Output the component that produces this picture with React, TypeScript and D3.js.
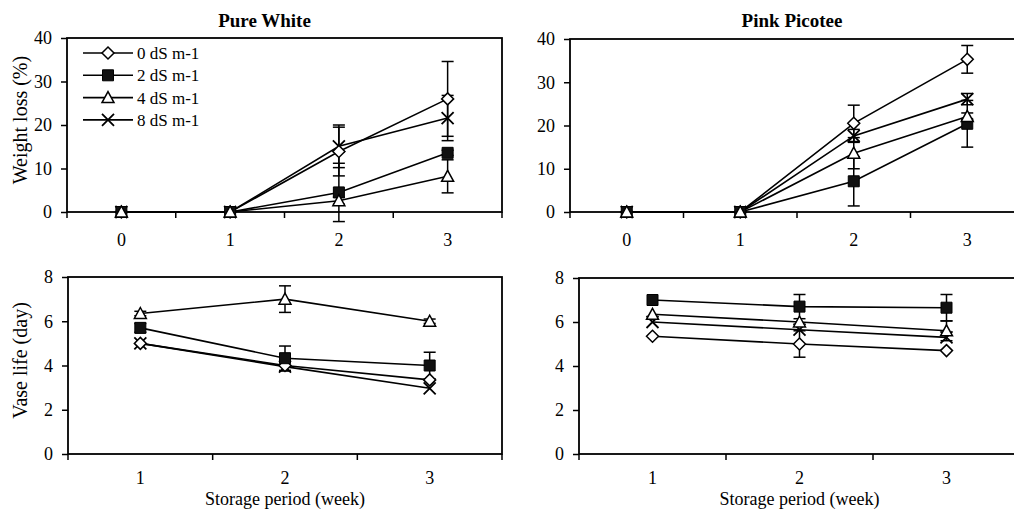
import React, { useEffect, useRef } from 'react'
import * as d3 from 'd3'

const topWeeks = ['0', '1', '2', '3']
const bottomWeeks = ['1', '2', '3']
const levels = ['0 dS m-1', '2 dS m-1', '4 dS m-1', '8 dS m-1']
const markers = ['diamond', 'square', 'triangle', 'x']

// Pure White - weight loss (%)
const pwLoss0 = [0, 0, 13.9, 26.0]
const pwLoss2 = [0, 0, 4.5, 13.6]
const pwLoss4 = [0, 0, 2.6, 8.2]
const pwLoss8 = [0, 0, 15.1, 21.6]
const pwLossErr0 = [0, 0, 5.6, 8.6]
const pwLossErr2 = [0, 0, 6.7, 0.6]
const pwLossErr4 = [0, 0, 0.8, 3.8]
const pwLossErr8 = [0, 0, 4.9, 5.2]

// Pink Picotee - weight loss (%)
const ppLoss0 = [0, 0, 20.5, 35.3]
const ppLoss2 = [0, 0, 7.1, 20.4]
const ppLoss4 = [0, 0, 13.6, 22.1]
const ppLoss8 = [0, 0, 17.6, 26.1]
const ppLossErr0 = [0, 0, 4.2, 3.2]
const ppLossErr2 = [0, 0, 5.7, 5.4]
const ppLossErr4 = [0, 0, 3.6, 0.8]
const ppLossErr8 = [0, 0, 1.5, 1.3]

// Pure White - vase life (day)
const pwVase0 = [5.0, 4.0, 3.35]
const pwVase2 = [5.7, 4.33, 4.0]
const pwVase4 = [6.35, 7.0, 6.0]
const pwVase8 = [5.0, 3.95, 2.97]
const pwVaseErr0 = [0, 0.25, 0]
const pwVaseErr2 = [0.2, 0.55, 0.6]
const pwVaseErr4 = [0.1, 0.6, 0.1]
const pwVaseErr8 = [0, 0, 0]

// Pink Picotee - vase life (day)
const ppVase0 = [5.35, 5.0, 4.7]
const ppVase2 = [7.0, 6.7, 6.65]
const ppVase4 = [6.35, 6.0, 5.6]
const ppVase8 = [6.0, 5.65, 5.3]
const ppVaseErr0 = [0, 0.6, 0]
const ppVaseErr2 = [0, 0.55, 0.6]
const ppVaseErr4 = [0, 0, 0.45]
const ppVaseErr8 = [0, 0, 0]

const FONT = '"Liberation Serif", "Times New Roman", serif'

const panels = [
  {
    title: 'Pure White', yTitle: 'Weight loss (%)', xTitle: null, legend: true,
    left: 67, right: 502, top: 38, bottom: 212, cats: topWeeks, yMax: 40, yTicks: [0, 10, 20, 30, 40],
    values: [pwLoss0, pwLoss2, pwLoss4, pwLoss8], errors: [pwLossErr0, pwLossErr2, pwLossErr4, pwLossErr8],
  },
  {
    title: 'Pink Picotee', yTitle: null, xTitle: null, legend: false,
    left: 570, right: 1024, top: 39, bottom: 212, cats: topWeeks, yMax: 40, yTicks: [0, 10, 20, 30, 40],
    values: [ppLoss0, ppLoss2, ppLoss4, ppLoss8], errors: [ppLossErr0, ppLossErr2, ppLossErr4, ppLossErr8],
  },
  {
    title: null, yTitle: 'Vase life (day)', xTitle: 'Storage period (week)', legend: false,
    left: 68, right: 502, top: 277, bottom: 454, cats: bottomWeeks, yMax: 8, yTicks: [0, 2, 4, 6, 8],
    values: [pwVase0, pwVase2, pwVase4, pwVase8], errors: [pwVaseErr0, pwVaseErr2, pwVaseErr4, pwVaseErr8],
  },
  {
    title: null, yTitle: null, xTitle: 'Storage period (week)', legend: false,
    left: 579, right: 1020, top: 278, bottom: 454, cats: bottomWeeks, yMax: 8, yTicks: [0, 2, 4, 6, 8],
    values: [ppVase0, ppVase2, ppVase4, ppVase8], errors: [ppVaseErr0, ppVaseErr2, ppVaseErr4, ppVaseErr8],
  },
]

function drawMarker(g, kind, cx, cy) {
  const m = g.append('g').attr('transform', `translate(${cx},${cy})`)
  if (kind === 'diamond') {
    m.append('path').attr('d', 'M0,-6L6,0L0,6L-6,0Z').attr('fill', '#fff').attr('stroke', '#000').attr('stroke-width', 1.5)
  } else if (kind === 'square') {
    m.append('path').attr('d', d3.symbol(d3.symbolSquare, 121)()).attr('fill', '#111').attr('stroke', '#000').attr('stroke-width', 1)
  } else if (kind === 'triangle') {
    m.append('path').attr('d', 'M0,-6L6,5L-6,5Z').attr('fill', '#fff').attr('stroke', '#000').attr('stroke-width', 1.5)
  } else {
    m.append('path').attr('d', 'M-6,-6L6,6M-6,6L6,-6').attr('fill', 'none').attr('stroke', '#000').attr('stroke-width', 1.8)
  }
}

function drawPanel(svg, p) {
  const g = svg.append('g')
  const x = d3.scaleBand().domain(p.cats).range([p.left, p.right])
  const y = d3.scaleLinear().domain([0, p.yMax]).range([p.bottom, p.top])
  const cx = c => x(c) + x.bandwidth() / 2

  g.append('rect')
    .attr('x', p.left).attr('y', p.top)
    .attr('width', p.right - p.left).attr('height', p.bottom - p.top)
    .attr('fill', 'none').attr('stroke', '#000').attr('stroke-width', 1.8)

  // y axis ticks + labels
  g.append('g')
    .attr('transform', `translate(${p.left},0)`)
    .call(d3.axisLeft(y).tickValues(p.yTicks).tickSize(6).tickPadding(9))
    .call(s => s.select('.domain').remove())
    .call(s => s.selectAll('line').attr('stroke-width', 1.5))
    .attr('font-family', FONT).attr('font-size', 18)

  // x ticks between categories
  const bounds = p.cats.map(c => x(c)).concat([p.right])
  g.selectAll('.xtick').data(bounds).join('line')
    .attr('x1', d => d).attr('x2', d => d)
    .attr('y1', p.bottom).attr('y2', p.bottom + 6)
    .attr('stroke', '#000').attr('stroke-width', 1.5)

  g.selectAll('.xlabel').data(p.cats).join('text')
    .attr('x', d => cx(d)).attr('y', p.bottom + (p.cats.length === 4 ? 34 : 30))
    .attr('text-anchor', 'middle').attr('font-family', FONT).attr('font-size', 18)
    .text(d => d)

  // lines
  const line = d3.line().x((d, i) => cx(p.cats[i])).y(d => y(d))
  p.values.forEach(vals => {
    g.append('path').attr('d', line(vals)).attr('fill', 'none').attr('stroke', '#000').attr('stroke-width', 1.6)
  })

  // error bars
  p.values.forEach((vals, si) => {
    vals.forEach((v, i) => {
      const e = p.errors[si][i]
      if (!e) return
      const px = cx(p.cats[i])
      g.append('line').attr('x1', px).attr('x2', px).attr('y1', y(v - e)).attr('y2', y(v + e))
        .attr('stroke', '#000').attr('stroke-width', 1.5)
      ;[v - e, v + e].forEach(t => {
        g.append('line').attr('x1', px - 6).attr('x2', px + 6).attr('y1', y(t)).attr('y2', y(t))
          .attr('stroke', '#000').attr('stroke-width', 1.5)
      })
    })
  })

  // markers, X drawn first so squares/triangles sit on top at zero
  ;[3, 0, 1, 2].forEach(si => {
    p.values[si].forEach((v, i) => drawMarker(g, markers[si], cx(p.cats[i]), y(v)))
  })

  if (p.title) {
    g.append('text').attr('x', (p.left + Math.min(p.right, 1014)) / 2 + (p.left > 500 ? 0 : -20)).attr('y', 27)
      .attr('text-anchor', 'middle').attr('font-family', FONT).attr('font-size', 19).attr('font-weight', 'bold')
      .text(p.title)
  }
  if (p.yTitle) {
    g.append('text').attr('transform', `translate(27,${(p.top + p.bottom) / 2 - 5}) rotate(-90)`)
      .attr('text-anchor', 'middle').attr('font-family', FONT).attr('font-size', 20)
      .text(p.yTitle)
  }
  if (p.xTitle) {
    g.append('text').attr('x', cx(p.cats[1])).attr('y', 505)
      .attr('text-anchor', 'middle').attr('font-family', FONT).attr('font-size', 18)
      .text(p.xTitle)
  }
  if (p.legend) {
    levels.forEach((name, i) => {
      const ly = 53 + i * 22.3
      g.append('line').attr('x1', 83).attr('x2', 133).attr('y1', ly).attr('y2', ly)
        .attr('stroke', '#000').attr('stroke-width', 1.6)
      drawMarker(g, markers[i], 108, ly)
      g.append('text').attr('x', 137).attr('y', ly + 6)
        .attr('font-family', FONT).attr('font-size', 17)
        .text(name)
    })
  }
}

export default function App() {
  const svgRef = useRef(null)

  useEffect(() => {
    const svg = d3.select(svgRef.current)
    svg.selectAll('*').remove()
    panels.forEach(p => drawPanel(svg, p))
  }, [])

  return (
    <svg
      ref={svgRef}
      width={1014}
      height={510}
      style={{ position: 'absolute', left: 0, top: 0, background: '#fff' }}
    />
  )
}
